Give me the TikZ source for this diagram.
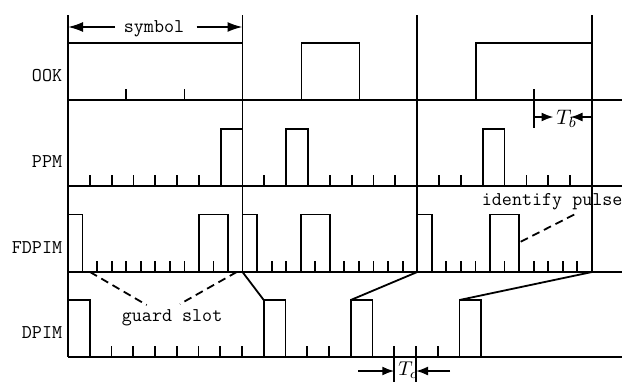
\documentclass[tikz,border=0pt]{standalone}
\usepackage{fontspec}
\usetikzlibrary{arrows.meta}
\begin{document}
\begin{tikzpicture}[x=1pt,y=-1pt,line width=1.8pt,
  txt/.style={font=\fontsize{19.5}{22}\selectfont\ttfamily,inner sep=0pt},
  lbl/.style={txt,anchor=base east},
  leader/.style={dash pattern=on 8pt off 5pt},
  bigarr/.style={-{Latex[length=15pt,width=10pt]}},
  smallarr/.style={-{Latex[length=12pt,width=9pt]}},
  mathlbl/.style={inner sep=0pt,scale=2.1,anchor=base west}]
\clip (0,0) rectangle (631,381);
% symbol boundaries
\draw (68,15) -- (68,357);
\foreach \x in {242.5,417.25,592} \draw (\x,15) -- (\x,272);
% baselines
\foreach \y in {100,186,272,357} \draw (68,\y) -- (622,\y);
% symbol marker
\draw (68,43) -- (242.5,43);
\node[txt,anchor=base west] (sym) at (123,32) {symbol};
\coordinate (sa1) at (115,27); \coordinate (sa2) at (68,27);
\coordinate (sb1) at (196.7,27); \coordinate (sb2) at (242.5,27);
\draw[bigarr] (sa1) -- (sa2);
\draw[bigarr] (sb1) -- (sb2);
% row labels
\node[lbl] (ook) at (63,81.7) {OOK};
\node[lbl] (ppm) at (63,167.3) {PPM};
\node[lbl] (fdpim) at (63,253.3) {FDPIM};
\node[lbl] (dpim) at (63,338.3) {DPIM};
% OOK
\foreach \x in {126.2,184.4} \draw (\x,89) -- (\x,100);
\draw (301.5,100) |- (359.5,43) -- (359.5,100);
\draw (475.8,100) |- (592,43);
% T_b
\draw (534,89) -- (534,127.5);
\coordinate (tb1) at (534,117); \coordinate (tb2) at (553.5,117);
\coordinate (tb3) at (592,117); \coordinate (tb4) at (570.5,117);
\draw[smallarr] (tb1) -- (tb2);
\draw[smallarr] (tb3) -- (tb4);
\node[mathlbl] (Tb) at (554.5,124) {$T_b$};
% PPM
\def\pw{21.83}
\foreach \k in {1,...,6} \draw ({68+\k*\pw},175) -- ++(0,11);
\draw ({68+7*\pw},186) |- (242.5,129);
\foreach \k in {1,4,5,6,7} \draw ({242.5+\k*\pw},175) -- ++(0,11);
\draw ({242.5+2*\pw},186) |- ({242.5+3*\pw},129) -- ({242.5+3*\pw},186);
\foreach \k in {1,2,5,6,7} \draw ({417.25+\k*\pw},175) -- ++(0,11);
\draw ({417.25+3*\pw},186) |- ({417.25+4*\pw},129) -- ({417.25+4*\pw},186);
% FDPIM
\def\fw{14.556}
\foreach \s in {68,242.5,417.25} \draw (\s,214.5) -| ({\s+\fw},272);
\foreach \k in {2,...,8,10} \draw ({68+\k*\fw},261) -- ++(0,11);
\draw ({68+9*\fw},272) |- ({68+11*\fw},214.5) -- ({68+11*\fw},272);
\foreach \k in {2,3,5,7,8,9,10,11} \draw ({242.5+\k*\fw},261) -- ++(0,11);
\draw ({242.5+4*\fw},272) |- ({242.5+6*\fw},214.5) -- ({242.5+6*\fw},272);
\foreach \k in {2,3,4,6,8,9,10,11} \draw ({417.25+\k*\fw},261) -- ++(0,11);
\draw ({417.25+5*\fw},272) |- ({417.25+7*\fw},214.5) -- ({417.25+7*\fw},272);
% DPIM
\def\dw{21.75}
\foreach \k in {2,...,8,11,12,17} \draw ({68+\k*\dw},346) -- ++(0,11);
\foreach \k in {15,16} \draw ({68+\k*\dw},346) -- ++(0,40);
\draw (68,300) -| ({68+\dw},357);
\foreach \k in {9,13,18} \draw ({68+\k*\dw},357) |- ({68+(\k+1)*\dw},300) -- ({68+(\k+1)*\dw},357);
% mapping lines
\coordinate (f1) at (242.5,272); \coordinate (d1) at (263.75,300);
\coordinate (f2) at (417.25,272); \coordinate (d2) at (350.75,300);
\coordinate (f3) at (592,272); \coordinate (d3) at (459.5,300);
\draw (f1) -- (d1);
\draw (f2) -- (d2);
\draw (f3) -- (d3);
% guard slot
\coordinate (g1) at (90,272); \coordinate (g2) at (146.7,305);
\coordinate (g3) at (236.7,272); \coordinate (g4) at (180,304);
\draw[leader] (g1) -- (g2);
\draw[leader] (g3) -- (g4);
\node[txt,anchor=base west] (guard) at (121,321) {guard slot};
% identify pulse
\coordinate (i1) at (520.7,241.7); \coordinate (i2) at (576.7,213.3);
\draw[leader] (i1) -- (i2);
\node[txt,anchor=base west] (ident) at (481,205) {identify pulse};
% T_c
\coordinate (tc1) at (358,371); \coordinate (tc2) at ({68+15*\dw},371);
\coordinate (tc3) at (450,371); \coordinate (tc4) at ({68+16*\dw},371);
\draw[smallarr] (tc1) -- (tc2);
\draw[smallarr] (tc3) -- (tc4);
\node[mathlbl,scale=0.95] (Tc) at (396.5,375.5) {$T_c$};
\end{tikzpicture}
\end{document}
